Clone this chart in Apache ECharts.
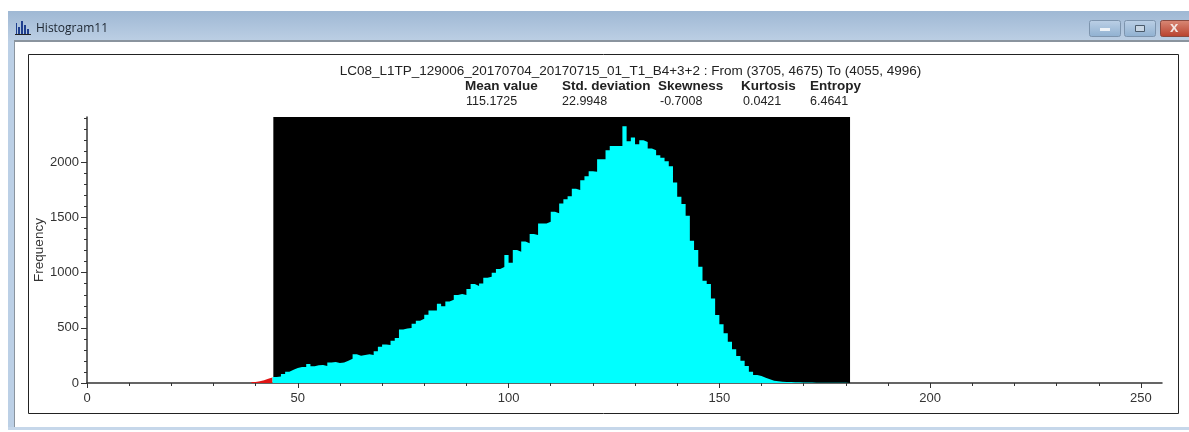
<!DOCTYPE html>
<html><head><meta charset="utf-8">
<style>html,body{margin:0;padding:0;background:#fff}#c{width:1189px;height:432px}</style>
<script src="https://cdn.jsdelivr.net/npm/echarts@6/dist/echarts.min.js"></script>
</head><body><div id="c"></div>
<script>
const windowTitle = "Histogram11";
const chartTitle = "LC08_L1TP_129006_20170704_20170715_01_T1_B4+3+2 : From (3705, 4675) To (4055, 4996)";
const statNames = ["Mean value","Std. deviation","Skewness","Kurtosis","Entropy"];
const statValues = ["115.1725","22.9948","-0.7008","0.0421","6.4641"];
const xTicks = [0,50,100,150,200,250];
const yTicks = [0,500,1000,1500,2000];
const outsideFirstBin = 39;
const outsideFreq = [8,15,25,38,50,54];
const selectedFirstBin = 44;
const selectedFreq = [
 54,60,82,103,121,136,145,145,172,151,160,163,154,187,190,181,187,202,220,260,
 248,254,260,254,287,329,350,344,384,408,486,495,498,538,565,583,619,658,658,719,
 695,740,755,797,806,797,852,897,879,903,954,963,1000,1033,1051,1160,1090,1205,1190,1284,
 1268,1350,1341,1447,1447,1462,1552,1540,1628,1667,1694,1761,1749,1839,1875,1921,1915,2029,2029,2111,
 2150,2150,2150,2328,2193,2226,2165,2202,2186,2126,2111,2066,2042,2011,1966,1818,1688,1622,1516,1290,
 1205,1054,927,897,767,616,532,450,374,305,245,202,154,103,72,63,48,33,21,15,
 12,10,8,7,6,5,4,4,3,3,3,2,2,2,2,2,2,2];
const selectedRange = [44.2,181];
const xRange = [0,255];
const yRange = [0,2412];

const toPairs = (first, vals) => vals.map((v,i)=>[first+i,v]);
const rect = (x,y,w,h,fill,extra) => Object.assign({type:'rect',shape:{x,y,width:w,height:h},style:{fill},silent:true,z:-10},extra||{});
const txt = (x,y,text,font,fill) => ({type:'text',x,y,z:10,silent:true,style:{text,font,fill:fill||'#222',textVerticalAlign:'middle'}});
const vGrad = (a,b)=>({type:'linear',x:0,y:0,x2:0,y2:1,colorStops:[{offset:0,color:a},{offset:1,color:b}]});
const statCols = [[465,466],[562,562],[658,660],[741,743],[810,810]];
const chrome = [
 rect(8,11,1181,30,vGrad('#9fb8d4','#bccfe4')),
 rect(8,41,6,389,'#bcd0e6'),
 rect(8,427,1181,3,'#c6d7ea'),
 rect(14,40,1175,2,'#8a949e'),
 rect(14,41,1,386,'#8a949e'),
 // icon
 rect(16,23,1,11,'#1f3f8f'),rect(18,27,2,7,'#1f3f8f'),rect(21,21,2,13,'#1f3f8f'),rect(24,25,2,9,'#1f3f8f'),rect(27,29,2,5,'#1f3f8f'),rect(15,34,16,1,'#222'),
 // window buttons
 rect(1089.5,20.5,31,16,'',{shape:{x:1089.5,y:20.5,width:31,height:16,r:2},style:{fill:vGrad('#bcd0e6','#8fb0d0'),stroke:'#7d94ad'}}),
 rect(1124.5,20.5,31,16,'',{shape:{x:1124.5,y:20.5,width:31,height:16,r:2},style:{fill:vGrad('#bcd0e6','#8fb0d0'),stroke:'#7d94ad'}}),
 rect(1160.5,20.5,32,16,'',{shape:{x:1160.5,y:20.5,width:32,height:16,r:2},style:{fill:vGrad('#d98a78','#b8402c'),stroke:'#8a4a40'}}),
 rect(1100,28,10,3,'#eef3f8',{z:-9}),
 rect(1135.5,25.5,9,6,'',{z:-9,style:{fill:'#c8d6e4',stroke:'#4a5a6a'}}),
 txt(1170,28,'x','bold 15px "Liberation Sans"','#f3e6e2'),
 // chart frame
 rect(28.5,54.5,1150,359,'',{style:{fill:'#fff',stroke:'#222',lineWidth:1}}),
 txt(36,29,windowTitle,'12px "Open Sans"','#1c2530'),
 ...statNames.map((s,i)=>txt(statCols[i][0],86,s,'bold 13.5px "Liberation Sans"','#222')),
 ...statValues.map((s,i)=>txt(statCols[i][1],102,s,'12.5px "Liberation Sans"','#222')),
];
const chart = echarts.init(document.getElementById('c'),null,{renderer:'canvas'});
const axisColor='#333';
const plain = v => String(v);
chart.setOption({
 animation:false,
 backgroundColor:'#fff',
 title:{text:chartTitle,left:625.5,top:59,textAlign:'center',textStyle:{fontFamily:'Liberation Sans',fontSize:13.5,fontWeight:'normal',color:'#222'}},
 grid:{left:87,right:27,top:117,bottom:49},
 xAxis:{type:'value',min:xRange[0],max:xRange[1],interval:50,splitLine:{show:false},
  axisLine:{onZero:false,lineStyle:{color:axisColor,width:1.5}},
  axisTick:{length:5,customValues:xTicks,lineStyle:{color:axisColor}},
  minorTick:{show:true,splitNumber:5,length:3,lineStyle:{color:axisColor}},
  axisLabel:{margin:9,formatter:plain,fontFamily:'Liberation Sans',fontSize:13,color:'#333',customValues:xTicks}},
 yAxis:{type:'value',min:yRange[0],max:yRange[1],interval:500,name:'Frequency',nameLocation:'middle',nameGap:41,nameMoveOverlap:false,
  nameTextStyle:{fontFamily:'Liberation Sans',fontSize:13.5,color:'#333'},
  splitLine:{show:false},
  axisLine:{show:true,lineStyle:{color:axisColor,width:1.5}},
  axisTick:{show:true,length:6,customValues:yTicks,lineStyle:{color:axisColor}},
  minorTick:{show:true,splitNumber:5,length:3,lineStyle:{color:axisColor}},
  axisLabel:{margin:8,formatter:plain,fontFamily:'Liberation Sans',fontSize:13,color:'#333',customValues:yTicks}},
 graphic:{elements:chrome},
 series:[
  {type:'line',name:'Outside',step:'end',symbol:'none',silent:true,z:3,clip:true,
   data:toPairs(outsideFirstBin,outsideFreq),lineStyle:{width:0},areaStyle:{color:'#e01414',opacity:1}},
  {type:'line',name:'Selected',step:'end',symbol:'none',silent:true,z:4,clip:true,
   data:toPairs(selectedFirstBin,selectedFreq),lineStyle:{width:0},areaStyle:{color:'#00ffff',opacity:1},
   markArea:{silent:true,z:1,itemStyle:{color:'#000',opacity:1},data:[[{xAxis:selectedRange[0],yAxis:yRange[0]},{xAxis:selectedRange[1],yAxis:yRange[1]}]]}}
 ]
});
</script></body></html>
